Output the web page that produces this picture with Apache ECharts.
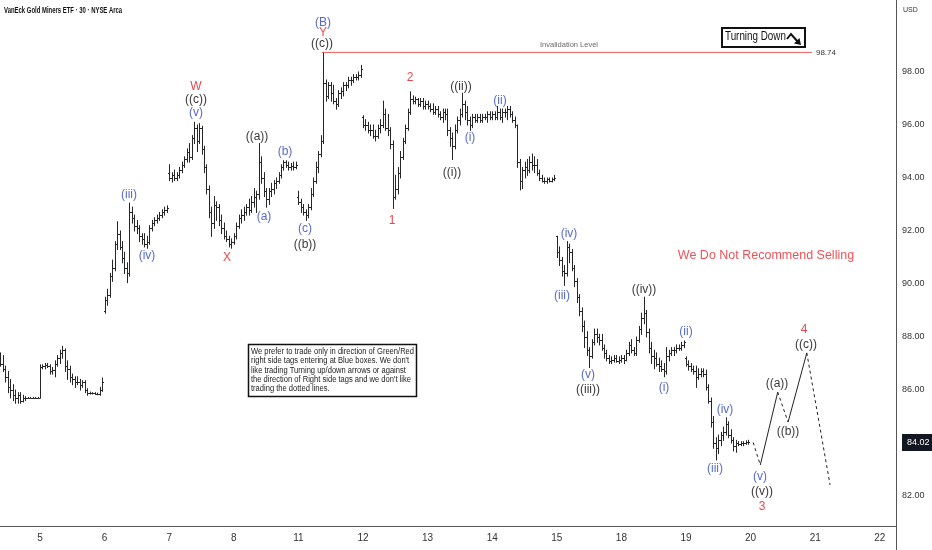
<!DOCTYPE html>
<html><head><meta charset="utf-8">
<script src="https://cdn.jsdelivr.net/npm/echarts@6/dist/echarts.min.js"></script>
<style>html,body{margin:0;padding:0;background:#fff;}#c{width:932px;height:550px;}</style>
</head><body><div id="c"></div>
<script>
// ---------- DATA ----------
const title = 'VanEck Gold Miners ETF · 30 · NYSE Arca';
const dayLabels = ['5','6','7','8','11','12','13','14','15','18','19','20','21','22'];
const barsPerDay = 26;
const barsBeforeFirstLabel = 16;   // bars of the trading day before "5"
const priceTicks = [82, 86, 88, 90, 92, 94, 96, 98];
const lastPrice = 84.02;
const invalidationLevel = 98.74;

// 30-minute bars: [open, high, low, close]
const day4 = [[87.2,87.4,86.9,87.0],[87.0,87.3,86.7,86.8],[86.8,86.9,86.3,86.5],[86.5,86.7,85.9,86.1],[86.1,86.4,85.7,86.0],[86.0,86.2,85.6,85.8],[85.8,86.0,85.5,85.7],[85.7,85.9,85.5,85.8],[85.8,85.9,85.5,85.6],[85.6,85.8,85.55,85.7],[85.7,85.75,85.6,85.7],
  [85.71,85.72,85.7,85.71],[85.71,85.72,85.7,85.71],[85.71,85.72,85.7,85.71],[85.71,85.72,85.7,85.71],[85.71,85.72,85.7,85.71]];
const day5 = [[85.71,86.95,85.7,86.85],[86.85,86.95,86.8,86.9],[86.9,87.0,86.8,86.95],[86.95,87.0,86.85,86.9],[86.9,86.95,86.6,86.7],[86.7,86.85,86.6,86.75],
  [86.75,87.1,86.5,87.0],[87.0,87.3,86.9,87.2],[87.2,87.5,87.0,87.4],[87.4,87.65,87.2,87.5],[87.5,87.55,86.7,86.9],[86.9,87.1,86.4,86.8],
  [86.8,86.9,86.3,86.5],[86.5,86.6,86.2,86.4],[86.4,86.5,86.1,86.3],[86.3,86.5,86.2,86.3],[86.3,86.4,86.0,86.2],[86.2,86.35,86.1,86.3],
  [86.3,86.35,85.9,86.0],[86.0,86.05,85.8,85.9],[85.9,85.92,85.85,85.88],[85.88,85.9,85.85,85.87],[85.87,85.9,85.84,85.86],[85.86,85.88,85.82,85.85],
  [85.85,86.1,85.8,86.0],[86.0,86.45,85.95,86.3]];
const day6 = [[89.0,89.5,88.9,89.4],[89.4,89.8,89.2,89.6],[89.6,90.4,89.5,90.3],[90.3,90.9,90.1,90.6],[90.6,91.6,90.5,91.5],[91.5,92.35,91.3,91.9],
  [91.9,92.0,91.3,91.4],[91.4,91.6,90.8,91.0],[91.0,91.2,90.4,90.6],[90.6,90.8,90.05,90.4],[90.4,93.05,90.3,92.7],[92.7,92.9,92.3,92.5],
  [92.5,92.6,92.0,92.2],[92.2,92.4,91.9,92.1],[92.1,92.2,91.6,91.8],[91.8,91.9,91.5,91.7],[91.7,91.9,91.4,91.5],[91.5,91.8,91.35,91.6],
  [91.6,92.2,91.5,92.1],[92.1,92.4,92.0,92.3],[92.3,92.5,92.2,92.4],[92.4,92.6,92.3,92.5],[92.5,92.7,92.4,92.6],[92.6,92.8,92.5,92.7],
  [92.7,92.9,92.6,92.8],[92.8,92.95,92.7,92.85]];
const day7 = [[94.2,94.5,93.9,94.0],[94.0,94.2,93.85,94.1],[94.1,94.3,93.9,94.0],[94.0,94.2,93.9,94.1],[94.1,94.4,94.0,94.3],[94.3,94.6,94.2,94.5],
  [94.5,94.8,94.4,94.7],[94.7,95.1,94.6,95.0],[95.0,95.3,94.6,94.8],[94.8,95.6,94.7,95.5],[95.5,96.1,95.3,95.9],[95.9,96.0,95.0,95.4],
  [95.4,96.05,95.3,95.9],[95.9,95.95,94.9,95.1],[95.1,95.2,94.2,94.4],[94.4,94.5,93.4,93.6],[93.6,93.7,92.5,92.7],[92.7,92.9,91.8,92.3],
  [92.3,93.3,92.1,93.0],[93.0,93.1,92.4,92.9],[92.9,93.0,92.2,92.4],[92.4,92.6,91.9,92.1],[92.1,92.3,91.7,91.8],[91.8,92.0,91.6,91.7],
  [91.7,91.8,91.4,91.5],[91.5,91.7,91.35,91.6]];
const day8 = [[91.6,91.9,91.5,91.8],[91.8,92.3,91.7,92.2],[92.2,92.6,92.1,92.5],[92.5,92.8,92.3,92.6],[92.6,92.9,92.4,92.7],[92.7,93.0,92.6,92.9],
  [92.9,93.2,92.6,92.8],[92.8,93.3,92.7,93.1],[93.1,93.6,92.9,93.3],[93.3,93.5,92.7,93.4],[93.4,95.3,93.2,94.6],[94.6,94.8,93.8,94.0],
  [94.0,94.2,93.3,93.5],[93.5,93.6,92.9,93.2],[93.2,93.6,93.0,93.5],[93.5,93.8,93.3,93.6],[93.6,93.9,93.4,93.8],[93.8,94.0,93.6,93.9],
  [93.9,94.2,93.8,94.1],[94.1,94.5,94.0,94.4],[94.4,94.65,94.3,94.6],[94.6,94.65,94.4,94.5],[94.5,94.6,94.3,94.4],[94.4,94.55,94.3,94.45],
  [94.45,94.6,94.3,94.4],[94.4,94.6,94.35,94.5]];
const day11 = [[93.3,93.5,93.0,93.1],[93.1,93.2,92.7,92.9],[92.9,93.0,92.6,92.7],[92.7,92.8,92.4,92.6],[92.6,93.0,92.5,92.9],[92.9,93.6,92.8,93.4],
  [93.4,94.0,93.3,93.9],[93.9,94.6,93.8,94.4],[94.4,95.0,94.2,94.9],[94.9,95.6,94.8,95.4],[95.4,98.74,95.3,97.6],[97.6,97.7,96.9,97.1],
  [97.1,97.6,97.0,97.5],[97.5,97.6,96.9,97.2],[97.2,97.5,96.8,96.9],[96.9,97.0,96.6,96.8],[96.8,97.3,96.7,97.2],[97.2,97.4,97.0,97.3],
  [97.3,97.6,97.1,97.5],[97.5,97.6,97.3,97.5],[97.5,97.8,97.4,97.7],[97.7,97.8,97.5,97.7],[97.7,97.9,97.6,97.8],[97.8,97.9,97.7,97.8],
  [97.8,98.0,97.7,97.9],[97.9,98.25,97.8,98.1]];
const day12 = [[96.3,96.35,95.9,96.0],[96.0,96.2,95.8,96.0],[96.0,96.1,95.7,95.8],[95.8,96.0,95.6,95.8],[95.8,96.0,95.5,95.6],[95.6,95.8,95.4,95.6],
  [95.6,96.0,95.5,95.9],[95.9,96.2,95.7,96.0],[96.0,96.9,95.9,96.4],[96.4,96.6,95.8,95.9],[95.9,96.4,95.6,95.8],[95.8,95.9,95.1,95.3],
  [95.3,95.4,92.85,93.3],[93.3,94.1,93.2,93.6],[93.6,94.4,93.4,94.2],[94.2,95.0,94.0,94.8],[94.8,95.5,94.7,95.4],[95.4,96.0,95.3,95.9],
  [95.9,96.6,95.8,96.5],[96.5,97.25,96.4,97.0],[97.0,97.1,96.8,96.9],[96.9,97.05,96.8,97.0],[97.0,97.0,96.7,96.8],[96.8,97.0,96.7,96.9],
  [96.9,97.0,96.6,96.7],[96.7,96.9,96.6,96.8]];
const day13 = [[96.8,96.9,96.6,96.7],[96.7,96.8,96.5,96.6],[96.6,96.8,96.4,96.5],[96.5,96.7,96.4,96.6],[96.6,96.7,96.3,96.4],[96.4,96.5,96.2,96.3],
  [96.3,96.6,96.1,96.5],[96.5,96.6,96.2,96.4],[96.4,96.6,95.6,95.8],[95.8,95.9,95.2,95.5],[95.5,95.7,94.7,95.2],[95.2,96.0,95.1,95.8],
  [95.8,96.3,95.7,96.2],[96.2,96.6,96.0,96.4],[96.4,97.2,96.3,96.8],[96.8,96.9,96.2,96.5],[96.5,96.7,96.0,96.2],[96.2,96.3,95.8,96.0],
  [96.0,96.4,95.9,96.3],[96.3,96.4,96.1,96.2],[96.2,96.4,96.1,96.3],[96.3,96.4,96.1,96.2],[96.2,96.4,96.1,96.3],[96.3,96.4,96.2,96.3],
  [96.3,96.5,96.1,96.4],[96.4,96.5,96.2,96.3]];
const day14 = [[96.3,96.5,96.2,96.4],[96.4,96.5,96.2,96.3],[96.3,96.7,96.2,96.5],[96.5,96.6,96.2,96.3],[96.3,96.6,96.1,96.5],[96.5,96.6,96.3,96.5],
  [96.5,96.7,96.2,96.6],[96.6,96.7,96.3,96.4],[96.4,96.5,96.1,96.2],[96.2,96.3,95.9,96.0],[96.0,96.0,94.4,94.6],[94.6,94.7,93.55,93.9],
  [93.9,94.4,93.6,94.3],[94.3,94.6,94.0,94.4],[94.4,94.7,94.1,94.3],[94.3,94.8,94.2,94.6],[94.6,94.9,94.3,94.5],[94.5,94.8,94.2,94.5],
  [94.5,94.7,94.1,94.2],[94.2,94.3,93.9,94.0],[94.0,94.1,93.85,93.9],[93.9,94.0,93.8,93.9],[93.9,94.0,93.8,93.95],[93.95,94.0,93.85,93.9],
  [93.9,94.0,93.85,93.95],[93.95,94.1,93.9,94.0]];
const day15 = [[91.8,91.8,91.0,91.2],[91.2,91.4,90.7,90.9],[90.9,91.0,90.3,90.5],[90.5,90.7,89.95,90.4],[90.4,91.6,90.3,91.4],[91.4,91.5,90.8,91.2],
  [91.2,91.3,90.5,90.6],[90.6,90.7,89.9,90.1],[90.1,90.2,89.3,89.5],[89.5,89.6,88.8,89.0],[89.0,89.1,88.2,88.4],[88.4,88.6,87.6,88.0],
  [88.0,88.2,87.3,87.5],[87.5,87.6,86.85,87.3],[87.3,87.9,87.2,87.8],[87.8,88.3,87.7,88.1],[88.1,88.3,87.8,88.0],[88.0,88.1,87.7,87.9],
  [87.9,88.1,87.5,87.6],[87.6,87.7,87.2,87.4],[87.4,87.5,87.1,87.2],[87.2,87.3,87.0,87.1],[87.1,87.25,87.0,87.15],[87.15,87.3,87.05,87.2],
  [87.2,87.3,87.05,87.1],[87.1,87.25,87.0,87.15]];
const day18 = [[87.15,87.3,87.05,87.2],[87.2,87.3,87.0,87.15],[87.15,87.5,87.1,87.4],[87.4,87.8,87.3,87.7],[87.7,87.9,87.4,87.5],[87.5,87.6,87.3,87.4],
  [87.4,88.0,87.3,87.9],[87.9,88.4,87.8,88.3],[88.3,88.9,88.1,88.7],[88.7,89.5,88.5,88.9],[88.9,89.0,88.0,88.2],[88.2,88.3,87.4,87.6],
  [87.6,87.8,87.0,87.3],[87.3,87.5,86.8,87.2],[87.2,87.4,86.9,87.0],[87.0,87.2,86.7,86.9],[86.9,87.1,86.7,86.8],[86.8,87.0,86.5,86.7],
  [86.7,87.6,86.6,87.3],[87.3,87.5,87.1,87.4],[87.4,87.6,87.3,87.5],[87.5,87.6,87.3,87.5],[87.5,87.7,87.4,87.6],[87.6,87.7,87.5,87.6],
  [87.6,87.8,87.5,87.7],[87.7,87.85,87.6,87.8]];
const day19 = [[87.2,87.25,86.9,87.0],[87.0,87.1,86.75,86.9],[86.9,87.0,86.7,86.8],[86.8,86.9,86.6,86.7],[86.7,86.9,86.1,86.5],[86.5,86.8,86.4,86.6],
  [86.6,86.8,86.5,86.7],[86.7,86.8,86.5,86.6],[86.6,86.75,86.0,86.1],[86.1,86.2,85.5,85.6],[85.6,85.7,84.6,84.8],[84.8,85.0,83.8,84.0],
  [84.0,84.2,83.36,83.8],[83.8,84.3,83.6,84.1],[84.1,84.4,83.9,84.3],[84.3,84.6,84.1,84.4],[84.4,84.95,84.3,84.7],[84.7,84.8,84.2,84.3],
  [84.3,84.5,84.0,84.1],[84.1,84.2,83.7,83.9],[83.9,84.1,83.65,84.0],[84.0,84.05,83.9,83.95],[83.95,84.05,83.9,84.0],[84.0,84.05,83.9,84.0],
  [84.0,84.08,83.95,84.02],[84.02,84.1,83.95,84.02]];

// projected wave path [dayIndex, price]; segment types
const projection = [[11.04,84.02],[11.15,83.17],[11.42,85.92],[11.58,84.79],[11.87,87.4],[12.23,82.42]];
const projectionDashed = [true,false,true,false,true];

// wave labels [dayIndex, price, text, degree]
const waveLabels = [
  [4.381,99.85,'(B)','minute'],[4.381,99.47,'Y','major'],[4.365,99.06,'((c))','minor'],
  [2.415,97.43,'W','major'],[2.415,96.94,'((c))','minor'],[2.415,96.45,'(v)','minute'],
  [1.378,93.36,'(iii)','minute'],[1.656,91.06,'(iv)','minute'],[2.895,90.98,'X','major'],
  [3.359,95.55,'((a))','minor'],[3.467,92.53,'(a)','minute'],[3.793,94.98,'(b)','minute'],
  [4.102,92.08,'(c)','minute'],[4.102,91.47,'((b))','minor'],
  [5.449,92.38,'1','major'],[5.728,97.77,'2','major'],
  [6.517,97.43,'((ii))','minor'],[6.378,94.19,'((i))','minor'],[6.656,95.51,'(i)','minute'],[7.121,96.91,'(ii)','minute'],
  [8.189,91.89,'(iv)','minute'],[8.080,89.55,'(iii)','minute'],[8.483,86.57,'(v)','minute'],[8.483,86.0,'((iii))','minor'],
  [9.350,89.77,'((iv))','minor'],[10.0,88.19,'(ii)','minute'],[9.659,86.08,'(i)','minute'],
  [10.604,85.25,'(iv)','minute'],[10.449,83.02,'(iii)','minute'],
  [11.146,82.72,'(v)','minute'],[11.176,82.15,'((v))','minor'],[11.176,81.59,'3','major'],
  [11.409,86.23,'((a))','minor'],[11.579,84.42,'((b))','minor'],[11.827,88.26,'4','major'],[11.858,87.70,'((c))','minor']
];
const invalidationSpan = [4.365, 11.95];
const invalidationText = 'Invalidation Level';
const warningText = 'We Do Not Recommend Selling';
const warningAnchor = [11.238, 91.09];
const invalidationTextAnchor = [8.189, 99.02];
const noteLines = [
  'We prefer to trade only in direction of Green/Red',
  "right side tags entering at Blue boxes. We don't",
  'like trading Turning up/down arrows or against',
  "the direction of Right side tags and we don't like",
  'trading the dotted lines.'
];

// ---------- CHART ----------
const allBars = [].concat(day4, day5, day6, day7, day8, day11, day12, day13, day14, day15, day18, day19);
const barData = allBars.map((b, i) => [(i - barsBeforeFirstLabel) / barsPerDay, b[0], b[1], b[2], b[3]]);
const colors = {major:'#e3161e', minor:'#000', minute:'#2d44c4'};
const dayRange = [-40/64.6, (896-40)/64.6];
const priceRange = [98 - 454/26.5, 98 + 72/26.5];
const SANS = '"Liberation Sans",Arial,sans-serif';

const series = [{
  type: 'custom',
  data: barData,
  encode: {x: 0, y: [1,2,3,4]},
  clip: true,
  silent: true,
  renderItem: function (params, api) {
    const x = api.value(0);
    const o = api.coord([x, api.value(1)]);
    const h = api.coord([x, api.value(2)]);
    const l = api.coord([x, api.value(3)]);
    const c = api.coord([x, api.value(4)]);
    const px = Math.round(h[0]) + 0.5;
    const st = {stroke: '#262626', lineWidth: 1};
    return {type: 'group', children: [
      {type: 'line', shape: {x1: px, y1: h[1] - 0.5, x2: px, y2: l[1] + 0.5}, style: st},
      {type: 'line', shape: {x1: px - 1.5, y1: Math.round(o[1]) + 0.5, x2: px, y2: Math.round(o[1]) + 0.5}, style: st},
      {type: 'line', shape: {x1: px, y1: Math.round(c[1]) + 0.5, x2: px + 1.5, y2: Math.round(c[1]) + 0.5}, style: st}
    ]};
  }
}, {
  type: 'line',
  data: [[invalidationSpan[0], invalidationLevel], [invalidationSpan[1], invalidationLevel]],
  symbol: 'none', silent: true,
  lineStyle: {color: '#ee5a5a', width: 1},
  endLabel: {show: true, formatter: invalidationLevel.toFixed(2), color: '#333', fontSize: 8, fontFamily: SANS, distance: 4}
}];

for (let i = 0; i < projection.length - 1; i++) {
  series.push({
    type: 'line', data: [projection[i], projection[i+1]], symbol: 'none', silent: true,
    lineStyle: {color: '#222', width: 1, type: projectionDashed[i] ? [3, 3] : 'solid'}
  });
}

const textItems = waveLabels.map(w => ({
  value: [w[0], w[1]], name: w[2],
  label: {color: colors[w[3]]}
}));
series.push({
  type: 'scatter', silent: true, symbolSize: 1, itemStyle: {color: 'rgba(0,0,0,0)'},
  data: textItems,
  label: {show: true, position: 'inside', formatter: p => p.name, fontSize: 12, fontFamily: SANS}
});
series.push({
  type: 'scatter', silent: true, symbolSize: 1, itemStyle: {color: 'rgba(0,0,0,0)'},
  data: [{value: warningAnchor, name: warningText, label: {color: '#e8262d', fontSize: 12.5, fontFamily: SANS}},
         {value: invalidationTextAnchor, name: invalidationText, label: {color: '#444', fontSize: 7.5, fontFamily: SANS}}],
  label: {show: true, position: 'inside', formatter: p => p.name}
});

const chart = echarts.init(document.getElementById('c'), null, {renderer: 'canvas'});
chart.setOption({
  animation: false,
  backgroundColor: '#fff',
  grid: {left: 0, right: 36, top: 0, bottom: 24, containLabel: false, outerBoundsMode: 'none'},
  xAxis: {
    type: 'value', min: dayRange[0], max: dayRange[1],
    axisLine: {show: true, onZero: false, lineStyle: {color: '#555', width: 1}},
    axisTick: {show: false}, splitLine: {show: false},
    axisLabel: {customValues: dayLabels.map((d, i) => i), formatter: v => dayLabels[Math.round(v)],
      color: '#333', fontSize: 10, fontFamily: SANS, margin: 7}
  },
  yAxis: {
    type: 'value', position: 'right', min: priceRange[0], max: priceRange[1], scale: true,
    axisLine: {show: true, onZero: false, lineStyle: {color: '#555', width: 1}},
    axisTick: {show: false}, splitLine: {show: false},
    axisLabel: {
      customValues: priceTicks.concat([lastPrice]),
      formatter: v => Math.abs(v - lastPrice) < 1e-6 ? '{tag|' + v.toFixed(2) + '}' : '{n|' + v.toFixed(2) + '}',
      margin: 6,
      rich: {
        n: {color: '#333', fontSize: 9, fontFamily: SANS},
        tag: {color: '#fff', backgroundColor: '#131722', fontSize: 9, fontFamily: SANS, padding: [4, 8, 4, 5]}
      }
    }
  },
  series: series,
  graphic: [
    {type: 'text', x: 4, y: 6, scaleX: 0.66, style: {text: title, font: 'bold 9px ' + SANS, fill: '#111'}},
    {type: 'text', x: 903, y: 7, style: {text: 'USD', font: '7px ' + SANS, fill: '#333'}},
    {type: 'line', shape: {x1: 896.5, y1: 526, x2: 896.5, y2: 550}, style: {stroke: '#555', lineWidth: 1}},
    {type: 'group', x: 722, y: 28, children: [
      {type: 'rect', shape: {x: 0, y: 0, width: 83, height: 19}, style: {fill: '#fff', stroke: '#111', lineWidth: 2}},
      {type: 'text', x: 3, y: 3, scaleX: 0.82, style: {text: 'Turning Down', font: '12px ' + SANS, fill: '#111'}},
      {type: 'polyline', shape: {points: [[65, 11], [69, 6], [76, 14]]}, style: {stroke: '#111', lineWidth: 2, fill: null}},
      {type: 'polygon', shape: {points: [[79, 17], [72, 15.5], [77.5, 10]]}, style: {fill: '#111'}}
    ]},
    {type: 'group', x: 248, y: 344, children: [
      {type: 'rect', shape: {x: 0.5, y: 0.5, width: 168, height: 52}, style: {fill: '#fff', stroke: '#111', lineWidth: 1.5}},
      {type: 'text', x: 3, y: 3, scaleX: 0.89, style: {text: noteLines.join('\n'), font: '8.5px ' + SANS, lineHeight: 9.3, fill: '#222'}}
    ]}
  ]
});
</script></body></html>
